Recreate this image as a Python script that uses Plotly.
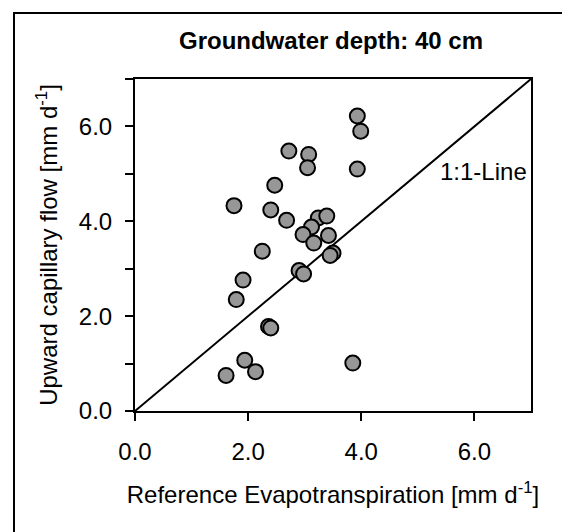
import plotly.graph_objects as go

# Reference evapotranspiration [mm/d]
et0 = [3.93, 3.99, 2.72, 3.07, 3.05, 3.93, 2.47, 1.75, 2.40, 2.68,
       3.24, 3.39, 3.12, 2.97, 3.42, 3.16, 2.25, 3.50, 3.45, 2.90,
       2.98, 1.91, 1.79, 2.36, 2.40, 1.94, 3.85, 1.61, 2.13]
# Upward capillary flow [mm/d]
capflow = [6.22, 5.90, 5.48, 5.41, 5.13, 5.10, 4.76, 4.33, 4.24, 4.02,
           4.07, 4.11, 3.88, 3.72, 3.70, 3.54, 3.37, 3.33, 3.28, 2.96,
           2.89, 2.76, 2.35, 1.78, 1.75, 1.07, 1.01, 0.75, 0.83]

one_to_one = [0, 7]
major_ticks = [0, 2, 4, 6]
major_labels = ["0.0", "2.0", "4.0", "6.0"]

W, H = 570, 532
L, R, T, B = 127, 47, 71, 129
pw, ph = W - L - R, H - T - B

FONT = "Liberation Sans, Arial, sans-serif"

fig = go.Figure()
fig.add_trace(go.Scatter(x=one_to_one, y=one_to_one, mode="lines",
                         line=dict(color="black", width=2), hoverinfo="skip",
                         showlegend=False, cliponaxis=True))
fig.add_trace(go.Scatter(x=et0, y=capflow, mode="markers",
                         marker=dict(size=15, color="#979797",
                                     line=dict(color="black", width=2)),
                         showlegend=False))

fig.add_annotation(x=6.97, y=5.06, xref="x", yref="y", text="1:1-Line",
                   showarrow=False, xanchor="right", yanchor="middle",
                   font=dict(family=FONT, size=24, color="black"))

# outer frame
def px2x(px):
    return (px - L) / pw

def py2y(py):
    return 1 - (py - T) / ph

fig.add_shape(type="rect", xref="paper", yref="paper",
              x0=px2x(6), x1=px2x(569), y0=py2y(531), y1=py2y(5),
              line=dict(color="black", width=2), layer="below")

fig.update_layout(
    width=W, height=H,
    margin=dict(l=L, r=R, t=T, b=B),
    paper_bgcolor="white", plot_bgcolor="white",
    font=dict(family=FONT, size=24, color="black"),
    title=dict(text="<b>Groundwater depth: 40 cm</b>", x=px2x(323) * pw / W + L / W,
               xanchor="center", y=1 - 33 / H, yanchor="middle",
               font=dict(family=FONT, size=24, color="black")),
)

fig.update_xaxes(range=[0, 7], tickvals=major_ticks, ticktext=major_labels,
                 ticks="outside", ticklen=8, tickwidth=2, tickcolor="black",
                 showline=True, linewidth=2, linecolor="black", mirror=True,
                 showgrid=False, zeroline=False, ticklabelstandoff=10,
                 title=dict(text="Reference Evapotranspiration [mm d<sup>-1</sup>]",
                            standoff=22, font=dict(size=24)),
                 tickfont=dict(size=24))
fig.update_yaxes(range=[0, 7], tickvals=major_ticks, ticktext=major_labels,
                 ticks="outside", ticklen=8, tickwidth=2, tickcolor="black",
                 minor=dict(tickvals=[1, 3, 5, 7], ticks="outside", ticklen=8,
                            tickwidth=2, tickcolor="black", showgrid=False),
                 showline=True, linewidth=2, linecolor="black", mirror=True,
                 showgrid=False, zeroline=False, ticklabelstandoff=8,
                 title=dict(text="Upward capillary flow [mm d<sup>-1</sup>]",
                            standoff=14, font=dict(size=24)),
                 tickfont=dict(size=24))

fig.write_html("out.html")
